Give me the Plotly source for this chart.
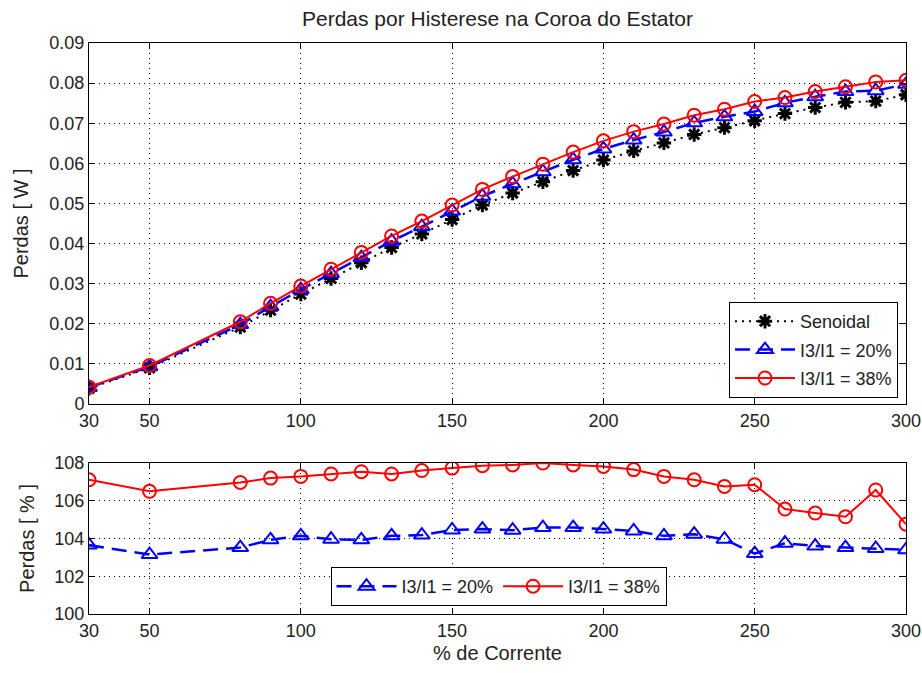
import plotly.graph_objects as go

# Corrente (% da nominal)
corrente = [30, 50, 80, 90, 100, 110, 120, 130, 140, 150, 160, 170, 180, 190,
            200, 210, 220, 230, 240, 250, 260, 270, 280, 290, 300]

# Perdas por histerese [W]
perdas_senoidal = [0.0039, 0.0090, 0.0192, 0.0234, 0.0274, 0.0313, 0.0352, 0.0390,
                   0.0424, 0.0460, 0.0496, 0.0526, 0.0554, 0.0582, 0.0608, 0.0631,
                   0.0651, 0.0672, 0.0689, 0.0706, 0.0724, 0.0739, 0.0752, 0.0755,
                   0.0771]
perdas_20 = [0.0041, 0.0093, 0.0198, 0.0243, 0.0285, 0.0325, 0.0365, 0.0406,
             0.0442, 0.0481, 0.0518, 0.0549, 0.0579, 0.0609, 0.0636, 0.0658,
             0.0678, 0.0701, 0.0716, 0.0729, 0.0751, 0.0766, 0.0779, 0.0781,
             0.0797]
perdas_38 = [0.0042, 0.0096, 0.0205, 0.0251, 0.0294, 0.0336, 0.0378, 0.0419,
             0.0456, 0.0496, 0.0535, 0.0567, 0.0598, 0.0628, 0.0656, 0.0679,
             0.0698, 0.0720, 0.0735, 0.0754, 0.0764, 0.0779, 0.0791, 0.0803,
             0.0807]

# Perdas relativas à alimentação senoidal [%]
relativo_20 = [103.65, 103.15, 103.52, 103.93, 104.14, 103.96, 103.93, 104.14,
               104.18, 104.45, 104.5, 104.44, 104.58, 104.58, 104.5, 104.4,
               104.14, 104.23, 103.96, 103.2, 103.75, 103.6, 103.52, 103.47,
               103.4]
relativo_38 = [107.11, 106.5, 106.97, 107.2, 107.29, 107.42, 107.54, 107.42,
               107.6, 107.73, 107.86, 107.9, 108.0, 107.9, 107.82, 107.65,
               107.29, 107.11, 106.76, 106.85, 105.56, 105.35, 105.15, 106.57,
               104.76]

x_ticks = [30, 50, 100, 150, 200, 250, 300]
y_ticks_w = [0, 0.01, 0.02, 0.03, 0.04, 0.05, 0.06, 0.07, 0.08, 0.09]
y_labels_w = ["0", "0.01", "0.02", "0.03", "0.04", "0.05", "0.06", "0.07", "0.08", "0.09"]
y_ticks_pct = [100, 102, 104, 106, 108]

W, H = 922, 673
FONT = "Liberation Sans, Arial, Helvetica, sans-serif"
BLUE = "#0000ff"
RED = "#ff0000"

fig = go.Figure()

# --- painel superior: perdas absolutas ---
fig.add_trace(go.Scatter(
    x=corrente, y=perdas_senoidal, name="Senoidal", mode="lines+markers",
    line=dict(color="black", width=2, dash="2px,5px"),
    marker=dict(symbol="asterisk-open", size=12, color="black",
                line=dict(color="black", width=3)),
    xaxis="x", yaxis="y", legend="legend", legendgroup="a"))
fig.add_trace(go.Scatter(
    x=corrente, y=perdas_20, name="I3/I1 = 20%", mode="lines+markers",
    line=dict(color=BLUE, width=2.5, dash="15px,8px"),
    marker=dict(symbol="triangle-up-open", size=14, color=BLUE,
                line=dict(color=BLUE, width=2)),
    xaxis="x", yaxis="y", legend="legend", legendgroup="b"))
fig.add_trace(go.Scatter(
    x=corrente, y=perdas_38, name="I3/I1 = 38%", mode="lines+markers",
    line=dict(color=RED, width=2),
    marker=dict(symbol="circle-open", size=13, color=RED,
                line=dict(color=RED, width=2)),
    xaxis="x", yaxis="y", legend="legend", legendgroup="c"))

# --- painel inferior: perdas relativas ---
fig.add_trace(go.Scatter(
    x=corrente, y=relativo_20, name="I3/I1 = 20%", mode="lines+markers",
    line=dict(color=BLUE, width=2.5, dash="15px,8px"),
    marker=dict(symbol="triangle-up-open", size=14, color=BLUE,
                line=dict(color=BLUE, width=2)),
    xaxis="x2", yaxis="y2", legend="legend2"))
fig.add_trace(go.Scatter(
    x=corrente, y=relativo_38, name="I3/I1 = 38%", mode="lines+markers",
    line=dict(color=RED, width=2),
    marker=dict(symbol="circle-open", size=13, color=RED,
                line=dict(color=RED, width=2)),
    xaxis="x2", yaxis="y2", legend="legend2"))

# plot areas in pixels
L, R = 89, 906
T1, B1 = 43, 404
T2, B2 = 463, 614

axis_common = dict(
    showline=True, linecolor="black", linewidth=1, mirror="ticks",
    ticks="inside", ticklen=6, tickcolor="black", tickwidth=1,
    showgrid=True, gridcolor="black", gridwidth=1, griddash="1px,4px",
    zeroline=False, automargin=False,
    tickfont=dict(family=FONT, size=18, color="#222"),
)

fig.update_layout(
    width=W, height=H,
    margin=dict(l=0, r=0, t=0, b=0),
    paper_bgcolor="white", plot_bgcolor="white",
    font=dict(family=FONT, size=18, color="#222"),
    title=dict(text="Perdas por Histerese na Coroa do Estator",
               x=(L + R) / 2 / W, xanchor="center", y=1 - 19 / H, yanchor="middle",
               font=dict(family=FONT, size=21, color="#222")),
    xaxis=dict(axis_common, domain=[L / W, R / W], range=[30, 300],
               tickvals=x_ticks, anchor="y"),
    yaxis=dict(axis_common, domain=[1 - B1 / H, 1 - T1 / H], range=[0, 0.09],
               tickvals=y_ticks_w, ticktext=y_labels_w, anchor="x",
               title=dict(text="Perdas [ W ]", standoff=15,
                          font=dict(family=FONT, size=20))),
    xaxis2=dict(axis_common, domain=[L / W, R / W], range=[30, 300],
                tickvals=x_ticks, anchor="y2",
                title=dict(text="% de Corrente", standoff=6,
                           font=dict(family=FONT, size=20))),
    yaxis2=dict(axis_common, domain=[1 - B2 / H, 1 - T2 / H], range=[100, 108],
                tickvals=y_ticks_pct, anchor="x2",
                title=dict(text="Perdas [ % ]", standoff=14,
                           font=dict(family=FONT, size=20))),
    legend=dict(x=898 / W, xanchor="right", y=1 - 302 / H, yanchor="top",
                bgcolor="white", bordercolor="black", borderwidth=1,
                font=dict(family=FONT, size=18, color="#222"), tracegroupgap=2,
                itemwidth=60),
    legend2=dict(x=(314 + 683) / 2 / W, xanchor="center", y=1 - 567 / H,
                 yanchor="top", orientation="h",
                 bgcolor="white", bordercolor="black", borderwidth=1,
                 font=dict(family=FONT, size=18, color="#222"), itemwidth=60),
    showlegend=True,
)

fig.write_html("out.html")
